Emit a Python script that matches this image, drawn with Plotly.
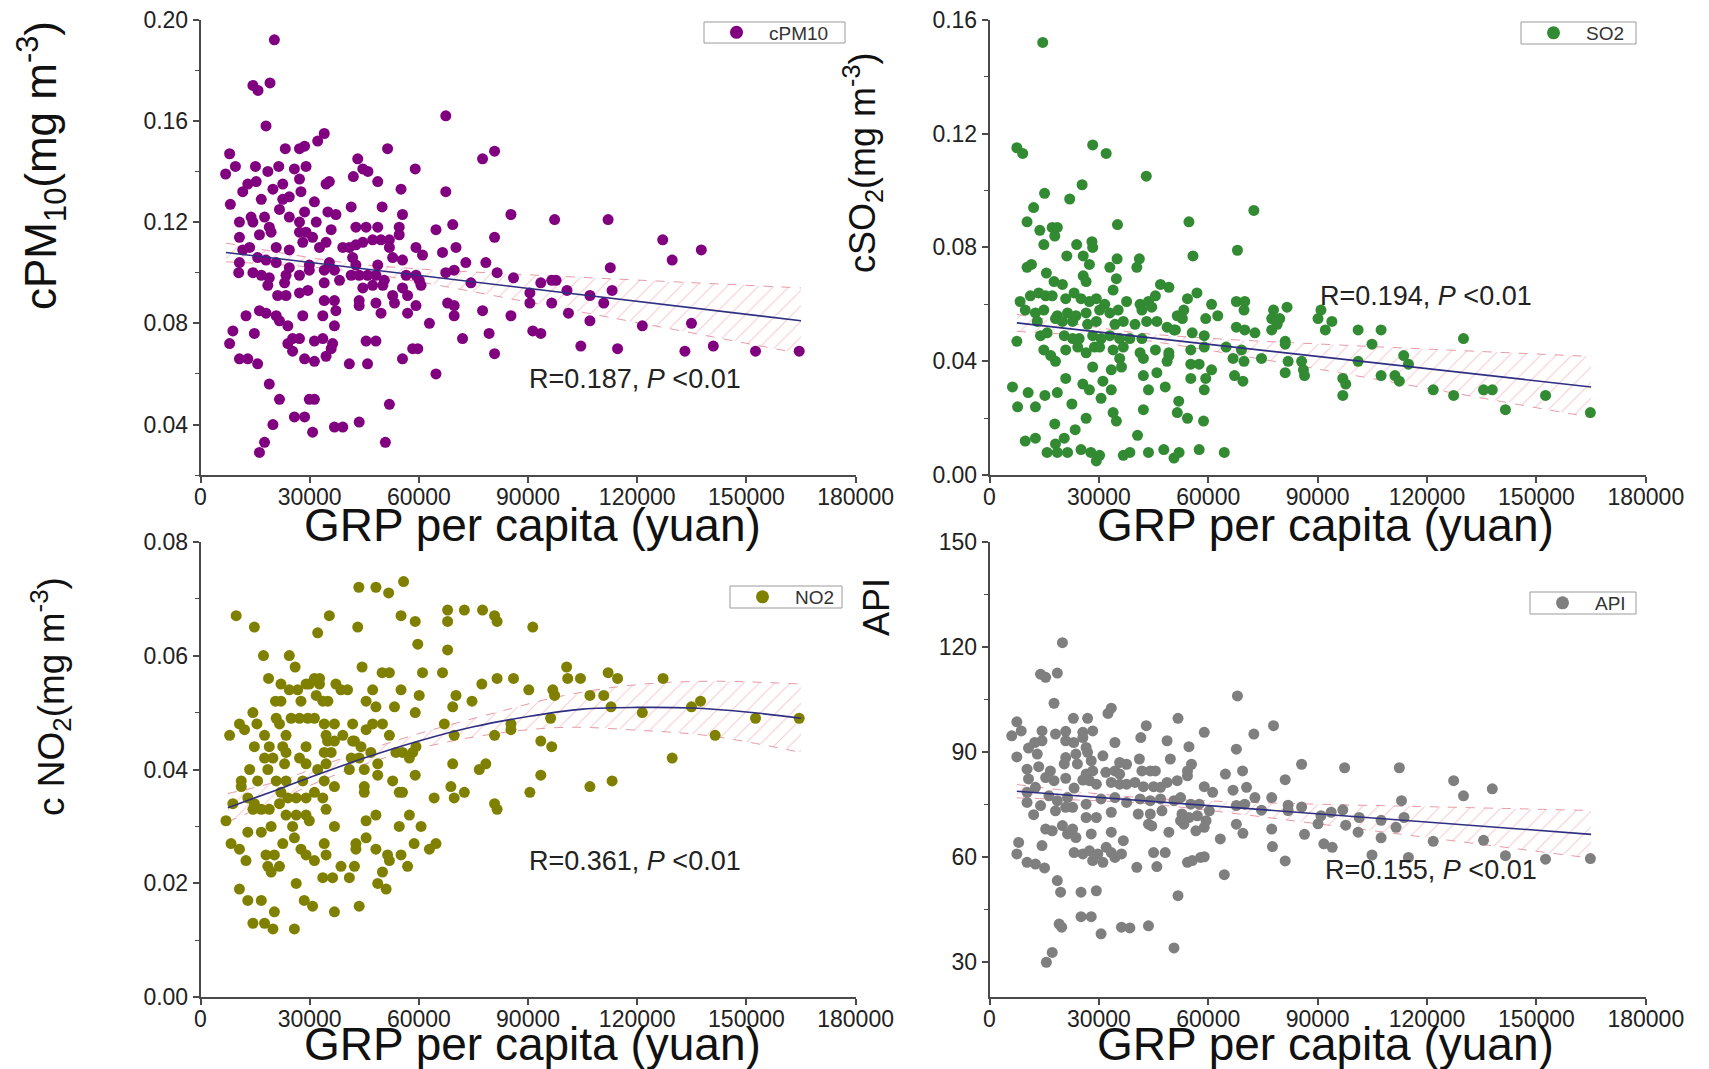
import plotly.graph_objects as go

W, H = 1709, 1069
OFF = 8  # page body margin of the html file

# ---------------- data ----------------
x_ticks = [0, 30000, 60000, 90000, 120000, 150000, 180000]
x_tick_labels = ["0", "30000", "60000", "90000", "120000", "150000", "180000"]

pm10_x = [20300,14400,15800,19100,18000,67400,8000,23300,27200,28600,32200,34000,51400,77500,43200,6900,9600,15100,18500,21500,
          25800,29000,42000,44600,46000,59000,48700,13000,15300,19900,22600,27200,27600,11600,34500,35400,67400,55100,8200,16700,
          22600,24400,21700,31300,41400,49900,24400,28600,35000,37200,55500,10700,13900,17600,27200,31800,14400,10700,16200,18900,
          19400,27200,29000,30800,34500,35900,42700,45500,48700,51900,54600,54600,64700,69300,13500,20800,24400,28100,32700,39100,
          40900,42700,44600,47300,49600,51900,59200,66500,70200,11600,15700,18000,20800,10700,24400,29900,35400,41800,42700,48700,
          52800,55500,61000,72900,78400,10500,14400,16700,18900,23500,27200,29900,34000,36800,41400,43600,45900,48200,50500,56500,
          59200,60100,67400,69700,18500,23100,34000,38200,44600,47300,50100,55500,60600,74300,21200,23500,27200,29500,34000,36800,
          43600,43600,48200,52800,53300,56900,59200,67900,69700,77500,12500,16200,18000,20800,21700,24000,28100,33600,37200,49600,
          56900,69700,8900,14800,36800,62900,8000,24000,25300,27200,31300,33600,36300,45500,48200,72000,79300,10700,13000,15700,
          25300,28600,31300,34500,35900,40900,45900,55500,58300,59700,64700,18900,21700,29900,31300,51900,19900,25800,28600,30800,
          36800,39100,43600,17600,16200,50800,
          80800,85300,97300,112000,127000,129600,137600,112600,80800,81500,86000,96500,97700,90500,93500,100700,107000,110800,113100,90500,
          96500,101100,85300,107000,121400,134900,91300,93500,80800,104500,114600,133100,140900,152500,164500]
pm10_y = [0.192,0.174,0.172,0.175,0.158,0.162,0.147,0.149,0.149,0.150,0.152,0.155,0.149,0.145,0.145,0.139,0.142,0.142,0.140,0.142,
          0.141,0.142,0.138,0.141,0.140,0.141,0.136,0.135,0.136,0.133,0.135,0.137,0.132,0.132,0.135,0.136,0.132,0.133,0.127,0.129,
          0.129,0.130,0.125,0.128,0.126,0.126,0.122,0.124,0.124,0.123,0.123,0.120,0.122,0.122,0.120,0.120,0.120,0.114,0.115,0.118,
          0.116,0.116,0.116,0.114,0.112,0.117,0.118,0.118,0.118,0.113,0.118,0.115,0.117,0.119,0.110,0.110,0.109,0.112,0.110,0.110,
          0.110,0.111,0.112,0.113,0.113,0.110,0.110,0.108,0.110,0.109,0.106,0.105,0.104,0.104,0.102,0.103,0.104,0.106,0.103,0.103,
          0.106,0.105,0.107,0.104,0.104,0.100,0.100,0.099,0.098,0.099,0.099,0.101,0.101,0.101,0.099,0.099,0.099,0.099,0.097,0.099,
          0.099,0.097,0.100,0.101,0.095,0.096,0.096,0.097,0.094,0.095,0.095,0.094,0.095,0.096,0.091,0.091,0.092,0.093,0.089,0.089,
          0.089,0.087,0.088,0.091,0.088,0.091,0.087,0.088,0.087,0.085,0.083,0.085,0.084,0.083,0.081,0.079,0.083,0.083,0.085,0.084,
          0.084,0.083,0.077,0.076,0.079,0.080,0.072,0.072,0.074,0.074,0.073,0.074,0.072,0.073,0.073,0.074,0.076,0.066,0.066,0.064,
          0.069,0.066,0.065,0.067,0.070,0.064,0.064,0.066,0.070,0.070,0.060,0.056,0.050,0.050,0.050,0.048,0.040,0.043,0.043,0.037,
          0.039,0.039,0.041,0.033,0.029,0.033,
          0.148,0.123,0.121,0.121,0.113,0.105,0.109,0.102,0.114,0.100,0.098,0.097,0.097,0.092,0.096,0.093,0.091,0.088,0.093,0.088,
          0.088,0.084,0.083,0.081,0.079,0.080,0.077,0.076,0.068,0.071,0.070,0.069,0.071,0.069,0.069]

so2_x = [14600,7500,9100,28300,32000,43000,25400,15100,22000,12100,72500,10300,13800,17200,18600,17900,35100,54700,14900,23900,
         28100,28300,21200,25700,27400,35000,41100,40400,33000,55800,68000,10300,11500,15600,17700,20000,25700,26500,34800,46900,
         49200,33900,8400,11200,13500,15400,17200,20900,23200,25100,27400,29300,31600,37600,41300,43600,45500,54300,56900,60900,
         67700,70000,69800,77900,9800,12600,14900,18600,21400,23700,26500,30200,33000,35300,41800,44500,51500,53300,13100,18100,
         20000,22800,26900,29300,34400,36700,39900,43100,45900,48700,51000,52900,59300,62600,67700,70000,72800,77400,77400,7500,
         14000,15800,20500,22800,24600,28300,30600,33000,35700,38500,41800,50600,55600,58900,14900,16800,20900,24200,26500,28800,
         30200,33900,35700,36700,41300,45500,49200,55200,58900,64900,69100,18100,28300,33400,36200,42200,48700,49200,55200,57500,
         60900,66800,69800,74600,20900,31100,42200,45900,55200,59300,67200,69500,6300,10600,15200,18600,25600,27400,33400,43600,
         48200,58900,22600,30600,7700,12600,33900,34800,42200,51900,51500,26500,54300,58700,17900,23500,40600,9800,12600,18100,
         20500,15800,18600,21400,25100,27800,30200,29300,36700,38500,43600,47800,50600,52000,57500,64400,
         90900,92100,93900,90100,96900,97700,96900,101100,101100,104900,107400,107400,111200,112400,113600,114900,121700,127300,130000,135500,
         137900,141500,152500,164800,81600,81100,81100,81900,81100,85600,86100,86400,78900,79600]
so2_y = [0.152,0.115,0.113,0.116,0.113,0.105,0.102,0.099,0.097,0.094,0.093,0.089,0.086,0.087,0.087,0.084,0.088,0.089,0.081,0.081,
         0.082,0.080,0.077,0.077,0.074,0.076,0.076,0.073,0.073,0.077,0.079,0.073,0.074,0.071,0.068,0.067,0.070,0.068,0.069,0.067,
         0.066,0.065,0.061,0.063,0.064,0.063,0.063,0.062,0.064,0.062,0.061,0.062,0.060,0.061,0.060,0.061,0.063,0.062,0.064,0.060,
         0.061,0.061,0.058,0.058,0.058,0.057,0.058,0.056,0.057,0.056,0.057,0.058,0.057,0.058,0.058,0.059,0.056,0.058,0.054,0.055,
         0.054,0.054,0.053,0.054,0.053,0.054,0.053,0.054,0.054,0.052,0.051,0.055,0.055,0.056,0.052,0.051,0.050,0.051,0.055,0.047,
         0.049,0.050,0.049,0.048,0.048,0.049,0.048,0.049,0.048,0.048,0.048,0.051,0.050,0.049,0.044,0.042,0.044,0.045,0.043,0.045,
         0.045,0.044,0.041,0.045,0.043,0.044,0.043,0.044,0.045,0.045,0.044,0.040,0.038,0.037,0.038,0.041,0.040,0.042,0.039,0.039,
         0.037,0.041,0.040,0.041,0.034,0.033,0.035,0.036,0.034,0.034,0.035,0.033,0.031,0.029,0.028,0.029,0.032,0.030,0.030,0.030,
         0.031,0.030,0.025,0.027,0.024,0.024,0.022,0.019,0.023,0.026,0.022,0.020,0.020,0.019,0.018,0.016,0.014,0.012,0.013,0.011,
         0.013,0.008,0.008,0.008,0.009,0.008,0.007,0.005,0.007,0.008,0.008,0.009,0.006,0.008,0.009,0.008,
         0.058,0.051,0.054,0.055,0.034,0.032,0.028,0.051,0.040,0.046,0.051,0.035,0.035,0.033,0.042,0.039,0.030,0.028,0.048,0.030,
         0.030,0.023,0.028,0.022,0.059,0.047,0.046,0.040,0.036,0.040,0.037,0.035,0.053,0.055]

no2_x = [43500,48200,51700,55800,9800,35400,14800,32200,43200,55100,59000,67900,67900,72500,77500,59700,67900,17300,24400,26000,
         44400,49900,51900,61000,66500,77300,18700,22100,24400,26700,29000,31300,32700,29900,32700,37200,38600,40400,47300,55100,
         20600,22100,27600,31800,33600,35000,45500,48200,53300,59000,60100,70200,69300,74600,14400,10700,12100,15500,20800,21700,
         24900,27200,29500,31300,34000,36800,41800,45500,47300,50000,67000,8000,17600,23500,34500,39100,42300,51900,69700,14800,
         18900,22600,29000,34900,36800,41800,44100,46800,53700,55500,58300,59200,17600,19900,23500,27200,34000,35900,41400,43600,
         57400,13500,18500,23100,29000,32200,34500,40900,45000,48700,48700,59000,69300,76600,78400,11200,15700,20800,23500,28100,
         34000,36800,45000,45000,52800,54600,55500,68800,11200,13000,14800,22100,24000,26300,29000,31300,33600,64200,69700,72500,
         8900,14400,16700,18900,21700,23500,26300,29000,34500,7000,13000,16700,19400,25300,29900,36800,45500,48200,54600,57400,
         60600,8400,10700,12500,18000,20300,22600,25800,27600,29000,31300,34000,34500,42700,42700,45500,48200,51400,51900,55100,
         58700,62900,64700,18500,19400,21700,33600,36300,38600,40900,42300,50000,56900,26300,48700,51000,10700,13000,16700,28500,
         30800,36800,43600,20300,14400,17600,19900,25800,
         81500,86000,90200,91300,96800,97300,100600,100900,104400,107000,110800,112000,114600,112800,121400,127100,134900,137400,141400,129600,
         152500,164500,85300,85300,80800,93500,96500,96200,93500,90500,107000,113100,80800,81500,80800,81500]
no2_y = [0.072,0.072,0.071,0.073,0.067,0.067,0.065,0.064,0.065,0.067,0.066,0.068,0.066,0.068,0.068,0.062,0.061,0.060,0.060,0.058,
         0.058,0.057,0.057,0.057,0.057,0.055,0.056,0.055,0.054,0.054,0.055,0.056,0.056,0.055,0.055,0.055,0.054,0.054,0.054,0.054,
         0.052,0.052,0.052,0.053,0.052,0.052,0.052,0.051,0.051,0.050,0.053,0.053,0.051,0.052,0.050,0.048,0.047,0.048,0.049,0.048,
         0.049,0.049,0.049,0.049,0.048,0.048,0.048,0.047,0.048,0.048,0.048,0.046,0.046,0.046,0.046,0.046,0.045,0.046,0.046,0.044,
         0.044,0.044,0.044,0.045,0.045,0.045,0.044,0.043,0.043,0.043,0.043,0.044,0.042,0.042,0.043,0.042,0.043,0.043,0.042,0.042,
         0.042,0.040,0.040,0.041,0.041,0.040,0.041,0.040,0.040,0.041,0.039,0.039,0.041,0.040,0.041,0.038,0.038,0.038,0.038,0.038,
         0.038,0.037,0.037,0.036,0.038,0.036,0.036,0.037,0.037,0.035,0.034,0.036,0.035,0.035,0.035,0.036,0.035,0.035,0.035,0.036,
         0.034,0.033,0.033,0.033,0.034,0.032,0.032,0.032,0.033,0.031,0.029,0.029,0.030,0.030,0.031,0.030,0.031,0.032,0.030,0.032,
         0.030,0.027,0.026,0.024,0.025,0.025,0.027,0.028,0.026,0.025,0.024,0.027,0.025,0.027,0.026,0.028,0.026,0.025,0.024,0.025,
         0.027,0.026,0.027,0.023,0.022,0.023,0.021,0.021,0.023,0.021,0.023,0.022,0.023,0.020,0.020,0.019,0.019,0.017,0.017,0.017,
         0.016,0.015,0.016,0.015,0.013,0.013,0.012,0.012,
         0.056,0.056,0.054,0.065,0.054,0.053,0.058,0.056,0.056,0.053,0.053,0.057,0.056,0.051,0.050,0.056,0.051,0.052,0.046,0.042,
         0.049,0.049,0.048,0.047,0.046,0.045,0.044,0.049,0.039,0.036,0.037,0.038,0.034,0.033,0.067,0.066]

api_x = [20000,14000,15400,18600,17700,68000,33400,32500,23000,26900,51700,7500,77900,6100,8700,14400,18100,20900,25600,28300,
         43000,41500,58900,72500,12400,10700,14400,20900,23100,25600,26500,26900,34400,48700,54700,67700,7500,13100,20900,23700,
         24100,27900,31100,35700,37600,41100,49600,55400,10300,13500,16700,20500,26500,28300,31900,34400,35700,41800,44100,45500,
         54300,64700,69400,10700,15400,17700,20900,23200,25600,27400,29300,33400,35700,37600,39900,42200,45000,46900,48700,51500,
         54300,58900,61200,66800,70500,72800,77400,10300,12600,10300,14000,16300,18600,21400,22800,26500,30600,34400,37600,41300,
         44100,46900,50600,52400,55200,57500,60300,67700,70000,74600,12100,18100,20900,26500,29300,33400,40800,44100,47300,52800,
         54700,57000,59400,15400,17200,20000,21400,22800,23700,27900,33400,36700,43600,44500,49200,52400,53300,56600,58900,63300,
         67700,69500,77400,8000,7500,14400,23200,25600,27400,29700,32000,33400,34400,36200,31100,28300,45000,48200,54300,55600,
         57900,58900,64400,77600,10300,12600,15100,40400,45900,18600,19500,25100,29300,51700,19100,19800,25100,27900,30600,36200,
         38500,43600,50600,17200,15600,
         90100,90900,91700,94000,93700,97400,96900,97700,101400,101100,104900,107400,107400,111500,112400,113000,113700,114900,121700,127300,
         130000,135500,137900,141500,152500,164800,81100,81100,85600,85600,86400,81900,81900]
api_y = [121.2,112.2,111.3,112.5,103.9,106.0,102.5,101.0,99.6,99.6,99.6,98.6,97.5,94.6,96.0,96.0,95.1,95.9,95.6,96.0,
         97.5,94.1,95.6,95.1,92.7,91.1,93.2,93.2,92.7,94.1,91.3,89.9,92.7,93.2,91.5,90.8,88.6,89.4,88.4,89.4,
         86.6,87.5,88.9,87.0,86.5,88.0,88.0,86.5,85.1,85.8,84.6,86.6,83.7,84.6,84.2,84.6,83.7,84.6,84.6,84.6,
         84.6,83.7,84.6,82.3,82.7,81.8,82.5,79.7,82.0,81.8,80.8,81.3,80.8,80.8,81.3,80.1,80.1,79.9,81.3,81.8,
         83.2,80.1,78.5,79.1,79.9,77.0,77.0,78.5,79.9,75.6,74.7,77.5,76.1,77.0,74.2,75.1,76.6,77.0,75.6,76.6,
         76.1,76.6,76.1,77.0,75.1,75.1,73.2,74.7,75.1,73.4,72.1,73.2,74.2,71.3,71.3,72.8,72.3,72.3,73.2,72.3,
         71.3,71.8,70.4,68.0,67.5,69.0,66.6,68.0,65.6,66.6,67.1,64.7,69.4,68.9,67.1,70.4,69.4,67.5,68.5,65.2,
         69.4,66.8,68.0,64.2,60.9,63.3,61.3,60.9,61.8,60.9,62.8,61.3,59.9,60.9,58.5,59.0,61.3,61.3,58.5,59.0,
         59.9,60.1,55.0,63.0,58.5,58.0,56.9,57.1,57.3,53.3,50.0,50.0,50.4,49.0,40.9,40.0,43.0,43.0,38.1,40.0,
         39.8,40.4,34.1,32.8,30.0,
         69.5,71.8,63.8,62.8,72.8,85.5,73.5,69.1,71.3,67.1,60.6,70.5,65.5,68.5,85.5,76.1,71.3,59.9,64.5,81.8,
         77.5,64.8,79.5,60.4,59.4,59.6,82.1,58.9,86.5,74.3,66.5,74.8,73.3]

# fitted lines and confidence bands as drawn
pm10_fit_x = [7000, 165000]
pm10_fit_y = [0.108, 0.081]
pm10_band_x = [7000, 20000, 40000, 60000, 90000, 120000, 165000]
pm10_band_hi = [0.1117, 0.1084, 0.1039, 0.1015, 0.0992, 0.0971, 0.094]
pm10_band_lo = [0.1043, 0.1033, 0.1009, 0.0964, 0.0884, 0.0803, 0.068]

so2_fit_x = [7500, 165000]
so2_fit_y = [0.0535, 0.031]
so2_band_x = [7500, 20000, 40000, 60000, 90000, 120000, 165000]
so2_band_hi = [0.0565, 0.0538, 0.0501, 0.0481, 0.0461, 0.0443, 0.0417]
so2_band_lo = [0.0505, 0.0496, 0.0477, 0.0439, 0.0373, 0.0305, 0.0203]

no2_fit_x = [7500, 20000, 30000, 45000, 60000, 75000, 90000, 105000, 120000, 135000, 150000, 165000]
no2_fit_y = [0.0333, 0.0362, 0.0386, 0.042, 0.045, 0.0475, 0.0493, 0.0506, 0.0509, 0.0508, 0.0501, 0.049]
no2_band_x = [7500, 20000, 40000, 60000, 80000, 100000, 120000, 140000, 165000]
no2_band_hi = [0.0358, 0.0377, 0.0422, 0.0463, 0.0498, 0.0530, 0.0549, 0.0555, 0.055]
no2_band_lo = [0.0308, 0.0343, 0.0398, 0.0437, 0.0462, 0.0474, 0.0469, 0.0459, 0.043]

api_fit_x = [7500, 165000]
api_fit_y = [78.8, 66.5]
api_band_x = [7500, 20000, 40000, 60000, 90000, 120000, 165000]
api_band_hi = [80.7, 79.15, 77.1, 76.05, 75.1, 74.4, 73.3]
api_band_lo = [76.9, 76.45, 75.5, 73.35, 69.5, 65.6, 59.7]

# ---------------- figure ----------------
def fx(px):
    return (px - OFF) / W

def fy(py):
    return 1 - (py - OFF) / H

FONT = "Liberation Sans, Arial, sans-serif"
AXC = "#4a4a4a"
BAND = "#e79aa6"
FITC = "#2e2e82"

panels = [
    dict(name="cPM10", x=pm10_x, y=pm10_y, color="#800080", fx_=pm10_fit_x, fy_=pm10_fit_y,
         bx=pm10_band_x, bh=pm10_band_hi, bl=pm10_band_lo, spline=False,
         xd=[fx(200.5), fx(855.6)], yd=[fy(475.2), fy(19.6)], yr=[0.02, 0.20],
         ytv=[0.04, 0.08, 0.12, 0.16, 0.20], ytt=["0.04", "0.08", "0.12", "0.16", "0.20"], minor=0.02, minor0=0.02,
         ytitle="cPM<sub>10</sub>(mg m<sup>-3</sup>)", yt_pos=(42, 166), yt_size=44,
         xt_pos=(532, 525), rtext="R=0.187, <i>P</i> &lt;0.01", r_pos=(119500, 0.058),
         box=(704, 22, 845, 43)),
    dict(name="SO2", x=so2_x, y=so2_y, color="#328a32", fx_=so2_fit_x, fy_=so2_fit_y,
         bx=so2_band_x, bh=so2_band_hi, bl=so2_band_lo, spline=False,
         xd=[fx(989.5), fx(1645.8)], yd=[fy(475.2), fy(19.6)], yr=[0.0, 0.16],
         ytv=[0.0, 0.04, 0.08, 0.12, 0.16], ytt=["0.00", "0.04", "0.08", "0.12", "0.16"], minor=0.02, minor0=0.0,
         ytitle="cSO<sub>2</sub>(mg m<sup>-3</sup>)", yt_pos=(862, 163), yt_size=36,
         xt_pos=(1325, 525), rtext="R=0.194, <i>P</i> &lt;0.01", r_pos=(119700, 0.0628),
         box=(1521, 22, 1636, 44)),
    dict(name="NO2", x=no2_x, y=no2_y, color="#808000", fx_=no2_fit_x, fy_=no2_fit_y,
         bx=no2_band_x, bh=no2_band_hi, bl=no2_band_lo, spline=True,
         xd=[fx(200.5), fx(855.6)], yd=[fy(997.3), fy(541.7)], yr=[0.0, 0.08],
         ytv=[0.0, 0.02, 0.04, 0.06, 0.08], ytt=["0.00", "0.02", "0.04", "0.06", "0.08"], minor=0.01, minor0=0.0,
         ytitle="c NO<sub>2</sub>(mg m<sup>-3</sup>)", yt_pos=(50, 697), yt_size=37,
         xt_pos=(532, 1044), rtext="R=0.361, <i>P</i> &lt;0.01", r_pos=(119500, 0.0239),
         box=(730, 586, 842, 608)),
    dict(name="API", x=api_x, y=api_y, color="#7f7f7f", fx_=api_fit_x, fy_=api_fit_y,
         bx=api_band_x, bh=api_band_hi, bl=api_band_lo, spline=False,
         xd=[fx(989.5), fx(1645.8)], yd=[fy(997.3), fy(541.7)], yr=[20, 150],
         ytv=[30, 60, 90, 120, 150], ytt=["30", "60", "90", "120", "150"], minor=15, minor0=30,
         ytitle="API", yt_pos=(876, 607), yt_size=36,
         xt_pos=(1325, 1044), rtext="R=0.155, <i>P</i> &lt;0.01", r_pos=(121000, 56.4),
         box=(1530, 592, 1636, 614)),
]

fig = go.Figure()
layout = dict(
    width=W, height=H, margin=dict(l=0, r=0, t=0, b=0, autoexpand=False),
    paper_bgcolor="white", plot_bgcolor="white",
    font=dict(family=FONT, color="#222222"),
    annotations=[], shapes=[],
)

for i, p in enumerate(panels):
    k = "" if i == 0 else str(i + 1)
    xa, ya = "x" + k, "y" + k
    lg = "legend" + k
    # band (hatched)
    fig.add_trace(go.Scatter(x=p["bx"], y=p["bl"], xaxis=xa, yaxis=ya, mode="lines",
                             line=dict(color=BAND, width=1, dash="dash", shape="spline"),
                             showlegend=False, hoverinfo="skip"))
    fig.add_trace(go.Scatter(x=p["bx"], y=p["bh"], xaxis=xa, yaxis=ya, mode="lines",
                             line=dict(color=BAND, width=1, dash="dash", shape="spline"),
                             fill="tonexty", fillcolor="rgba(0,0,0,0)",
                             fillpattern=dict(shape="/", fgcolor=BAND, bgcolor="rgba(0,0,0,0)", size=11, solidity=0.1),
                             showlegend=False, hoverinfo="skip"))
    # points
    fig.add_trace(go.Scatter(x=p["x"], y=p["y"], xaxis=xa, yaxis=ya, mode="markers", name=p["name"],
                             marker=dict(color=p["color"], size=11, line=dict(width=0)),
                             showlegend=False))
    # legend entry (larger symbol as in the reference legend)
    fig.add_trace(go.Scatter(x=[None], y=[None], xaxis=xa, yaxis=ya, mode="markers", name=p["name"],
                             marker=dict(color=p["color"], size=13, line=dict(width=0)),
                             legend=lg, showlegend=True))
    # fit line
    fig.add_trace(go.Scatter(x=p["fx_"], y=p["fy_"], xaxis=xa, yaxis=ya, mode="lines",
                             line=dict(color=FITC, width=1.6, shape="spline" if p["spline"] else "linear"),
                             showlegend=False, hoverinfo="skip"))

    layout["xaxis" + k] = dict(
        domain=p["xd"], anchor=ya, range=[0, 180000], automargin=False,
        tickmode="array", tickvals=x_ticks, ticktext=x_tick_labels,
        ticks="outside", ticklen=6, tickwidth=1.5, tickcolor=AXC, ticklabelstandoff=-6,
        ticklabeloverflow="allow",
        showline=True, linecolor=AXC, linewidth=1.5, mirror=False,
        showgrid=False, zeroline=False,
        tickfont=dict(size=23, family=FONT, color="#222222"),
    )
    layout["yaxis" + k] = dict(
        domain=p["yd"], anchor=xa, range=p["yr"], automargin=False,
        tickmode="array", tickvals=p["ytv"], ticktext=p["ytt"],
        ticks="outside", ticklen=6, tickwidth=1.5, tickcolor=AXC,
        ticklabeloverflow="allow",
        minor=dict(ticks="outside", ticklen=4, tickwidth=1.2, tickcolor=AXC, dtick=p["minor"], tick0=p["minor0"], showgrid=False),
        showline=True, linecolor=AXC, linewidth=1.5, mirror=False,
        showgrid=False, zeroline=False,
        tickfont=dict(size=23, family=FONT, color="#222222"),
    )
    bx0, by0, bx1, by1 = p["box"]
    layout["shapes"].append(dict(
        type="rect", xref="paper", yref="paper", x0=fx(bx0), x1=fx(bx1), y0=fy(by1), y1=fy(by0),
        line=dict(color="#9a9a9a", width=1), fillcolor="white", layer="above"))
    layout[lg] = dict(
        x=fx(bx0), y=fy((by0 + by1) / 2), xanchor="left", yanchor="middle",
        xref="paper", yref="paper",
        bgcolor="rgba(0,0,0,0)", borderwidth=0,
        font=dict(size=19, family=FONT, color="#333333"),
        itemwidth=55, tracegroupgap=0,
    )
    layout["annotations"].append(dict(
        text=p["ytitle"], xref="paper", yref="paper", x=fx(p["yt_pos"][0]), y=fy(p["yt_pos"][1]),
        xanchor="center", yanchor="middle", textangle=-90, showarrow=False,
        font=dict(size=p["yt_size"], family=FONT, color="#111111")))
    layout["annotations"].append(dict(
        text="GRP per capita (yuan)", xref="paper", yref="paper", x=fx(p["xt_pos"][0]), y=fy(p["xt_pos"][1]),
        xanchor="center", yanchor="middle", showarrow=False,
        font=dict(size=46, family=FONT, color="#111111")))
    layout["annotations"].append(dict(
        text=p["rtext"], xref=xa, yref=ya, x=p["r_pos"][0], y=p["r_pos"][1],
        xanchor="center", yanchor="middle", showarrow=False,
        font=dict(size=27, family=FONT, color="#222222")))

fig.update_layout(**layout)
fig.write_html("out.html")
